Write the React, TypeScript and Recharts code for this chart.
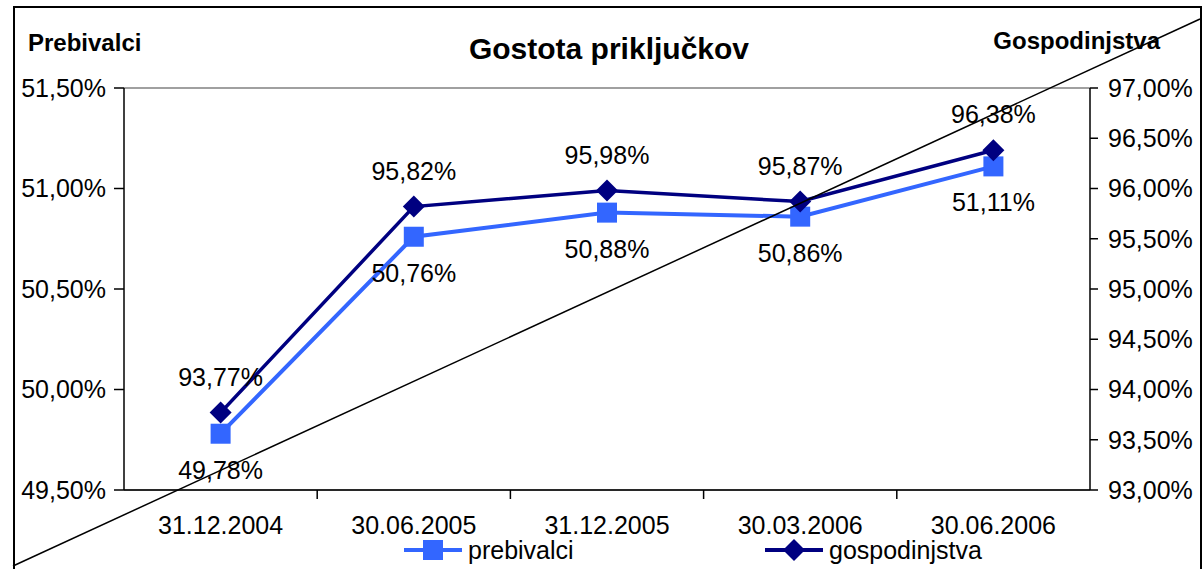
import { LineChart, Line, XAxis, YAxis, CartesianGrid, LabelList, Legend } from "recharts";

// Dates of the measurements
const DATES = ["31.12.2004", "30.06.2005", "31.12.2005", "30.03.2006", "30.06.2006"];
// Share of connected residents (left axis)
const PREBIVALCI = [49.78, 50.76, 50.88, 50.86, 51.11];
// Share of connected households (right axis)
const GOSPODINJSTVA = [93.77, 95.82, 95.98, 95.87, 96.38];

const LEFT_TICKS = [49.5, 50.0, 50.5, 51.0, 51.5];
const RIGHT_TICKS = [93.0, 93.5, 94.0, 94.5, 95.0, 95.5, 96.0, 96.5, 97.0];

const SERIES = [
  { key: "prebivalci", name: "prebivalci", color: "#3366FF", shape: "square" },
  { key: "gospodinjstva", name: "gospodinjstva", color: "#000080", shape: "diamond" },
];

const data = DATES.map((d, i) => ({
  date: d,
  prebivalci: PREBIVALCI[i],
  gospodinjstva: GOSPODINJSTVA[i],
}));

const W = 1203;
const H = 569;
const FONT = "'Liberation Sans', Arial, sans-serif";
const PLOT_LEFT = 124;
const PLOT_RIGHT = 1090;
const BAND = (PLOT_RIGHT - PLOT_LEFT) / DATES.length;

const pct = (v: number) => v.toFixed(2).replace(".", ",") + "%";

const SquareDot = (props: any) => {
  const { cx, cy } = props;
  if (cx == null || cy == null) return null;
  return <rect x={cx - 10} y={cy - 10} width={20} height={20} fill="#3366FF" />;
};

const DiamondDot = (props: any) => {
  const { cx, cy } = props;
  if (cx == null || cy == null) return null;
  const r = 11;
  return <polygon points={`${cx},${cy - r} ${cx + r},${cy} ${cx},${cy + r} ${cx - r},${cy}`} fill="#000080" />;
};

const XTick = (props: any) => {
  const { x, y, payload, index } = props;
  return (
    <g>
      {index > 0 && <line x1={x - BAND / 2} x2={x - BAND / 2} y1={y - 8} y2={y + 1} stroke="#000" strokeWidth={1.5} />}
      <text x={x} y={y + 36} textAnchor="middle" fontSize={25} fontFamily={FONT} fill="#000">
        {payload.value}
      </text>
    </g>
  );
};

const makeLabel = (dy: number) => (props: any) => {
  const { x, y, value } = props;
  return (
    <text x={x} y={y + dy} textAnchor="middle" dominantBaseline="central" fontSize={25} fontFamily={FONT} fill="#000">
      {pct(value)}
    </text>
  );
};

const LegendContent = () => {
  const pos = [404, 765];
  return (
    <svg width={W} height={30} style={{ display: "block" }}>
      {SERIES.map((s, i) => {
        const x0 = pos[i];
        const cx = x0 + 29;
        return (
          <g key={s.key}>
            <line x1={x0} x2={x0 + 58} y1={14} y2={14} stroke={s.color} strokeWidth={4} />
            {s.shape === "square" ? (
              <rect x={cx - 10} y={4} width={20} height={20} fill={s.color} />
            ) : (
              <polygon points={`${cx},${3} ${cx + 11},${14} ${cx},${25} ${cx - 11},${14}`} fill={s.color} />
            )}
            <text x={x0 + 64} y={23} fontSize={25} fontFamily={FONT} fill="#000">
              {s.name}
            </text>
          </g>
        );
      })}
    </svg>
  );
};

export default function App() {
  return (
    <div style={{ position: "absolute", left: 0, top: 0, width: W, height: H, background: "#fff", overflow: "hidden" }}>
      <LineChart width={W} height={H} data={data} margin={{ top: 88, right: 0, bottom: 0, left: 0 }}>
        <CartesianGrid vertical={false} stroke="#808080" strokeWidth={1.5} />
        <XAxis
          dataKey="date"
          height={79}
          padding={{ left: BAND / 2, right: BAND / 2 }}
          axisLine={{ stroke: "#000", strokeWidth: 1.5 }}
          tickLine={false}
          tick={<XTick />}
          interval={0}
        />
        <YAxis
          yAxisId="left"
          width={124}
          domain={[49.5, 51.5]}
          ticks={LEFT_TICKS}
          tickFormatter={pct}
          axisLine={{ stroke: "#000", strokeWidth: 1.5 }}
          tickLine={{ stroke: "#000", strokeWidth: 1.5 }}
          tickSize={10}
          tickMargin={8}
          tick={{ fontSize: 25, fontFamily: FONT, fill: "#000" }}
        />
        <YAxis
          yAxisId="right"
          orientation="right"
          width={113}
          domain={[93, 97]}
          ticks={RIGHT_TICKS}
          tickFormatter={pct}
          axisLine={{ stroke: "#000", strokeWidth: 1.5 }}
          tickLine={{ stroke: "#000", strokeWidth: 1.5 }}
          tickSize={8}
          tickMargin={10}
          tick={{ fontSize: 25, fontFamily: FONT, fill: "#000" }}
        />
        <Legend
          layout="horizontal"
          verticalAlign="middle"
          align="center"
          wrapperStyle={{ top: 536, left: 0, width: W }}
          content={<LegendContent />}
        />
        <Line
          yAxisId="left"
          dataKey="prebivalci"
          name="prebivalci"
          stroke="#3366FF"
          strokeWidth={4}
          dot={<SquareDot />}
          activeDot={false}
          isAnimationActive={false}
        >
          <LabelList dataKey="prebivalci" content={makeLabel(36)} />
        </Line>
        <Line
          yAxisId="right"
          dataKey="gospodinjstva"
          name="gospodinjstva"
          stroke="#000080"
          strokeWidth={3.5}
          dot={<DiamondDot />}
          activeDot={false}
          isAnimationActive={false}
        >
          <LabelList dataKey="gospodinjstva" content={makeLabel(-36)} />
        </Line>
      </LineChart>
      <svg width={W} height={H} style={{ position: "absolute", left: 0, top: 0, pointerEvents: "none" }}>
        <rect x={14} y={7} width={1187} height={600} fill="none" stroke="#000" strokeWidth={2} />
        <text x={609} y={48} textAnchor="middle" dominantBaseline="central" fontSize={30} fontWeight="bold" fontFamily={FONT} fill="#000">
          Gostota priključkov
        </text>
        <text x={28} y={42} dominantBaseline="central" fontSize={24} fontWeight="bold" fontFamily={FONT} fill="#000">
          Prebivalci
        </text>
        <text x={1160} y={40} textAnchor="end" dominantBaseline="central" fontSize={24} fontWeight="bold" fontFamily={FONT} fill="#000">
          Gospodinjstva
        </text>
        <line x1={13} y1={566} x2={1200} y2={19} stroke="#000" strokeWidth={1.5} />
      </svg>
    </div>
  );
}
